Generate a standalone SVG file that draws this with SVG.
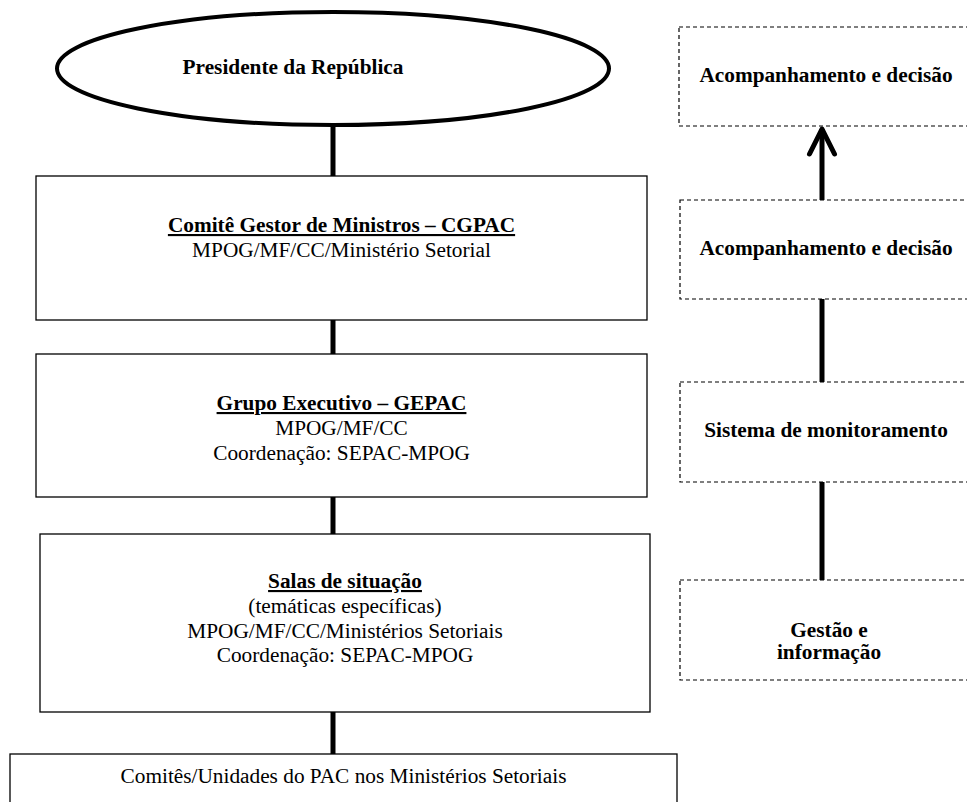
<svg xmlns="http://www.w3.org/2000/svg" width="967" height="802" viewBox="0 0 967 802">
<defs>
<style>
.box{fill:#fff;stroke:#000;stroke-width:1.3}
.dash{fill:#fff;stroke:#000;stroke-width:1.2;stroke-dasharray:4 3}
.t{font-family:"Liberation Serif","Times New Roman",serif;font-size:21.3px;fill:#000;text-anchor:middle}
.b{font-weight:bold}
.u{text-decoration:underline}
.conn{stroke:#000;stroke-width:5;fill:none}
</style>
<marker id="arrow" viewBox="-4 -18 34 36" refX="26" refY="0" markerWidth="34" markerHeight="36" markerUnits="userSpaceOnUse" orient="auto">
<path d="M1,-12.5 L26,0 L1,12.5" fill="none" stroke="#000" stroke-width="5" stroke-linecap="round" stroke-linejoin="round"/>
</marker>
</defs>
<rect width="967" height="802" fill="#fff"/>
<g id="connectors">
<line class="conn" x1="333" y1="125" x2="333" y2="176"/>
<line class="conn" x1="333" y1="320" x2="333" y2="354"/>
<line class="conn" x1="333" y1="497" x2="333" y2="534"/>
<line class="conn" x1="333" y1="712" x2="333" y2="754"/>
<line class="conn" x1="822" y1="200" x2="822" y2="129" marker-end="url(#arrow)"/>
<line class="conn" x1="822" y1="299" x2="822" y2="382"/>
<line class="conn" x1="822" y1="482" x2="822" y2="580"/>
</g>
<g id="presidente">
<ellipse cx="333" cy="68.5" rx="276" ry="56.5" fill="#fff" stroke="#000" stroke-width="4"/>
<text class="t b" x="293" y="74">Presidente da República</text>
</g>
<g id="cgpac">
<rect class="box" x="36" y="176" width="611" height="144"/>
<text class="t" x="341.5" y="232"><tspan class="b u">Comitê Gestor de Ministros – CGPAC</tspan></text>
<text class="t" x="341.5" y="257">MPOG/MF/CC/Ministério Setorial</text>
</g>
<g id="gepac">
<rect class="box" x="36" y="354" width="611" height="143"/>
<text class="t" x="341.5" y="410"><tspan class="b u">Grupo Executivo – GEPAC</tspan></text>
<text class="t" x="341.5" y="435">MPOG/MF/CC</text>
<text class="t" x="341.5" y="460">Coordenação: SEPAC-MPOG</text>
</g>
<g id="salas">
<rect class="box" x="40" y="534" width="610" height="178"/>
<text class="t" x="345" y="588"><tspan class="b u">Salas de situação</tspan></text>
<text class="t" x="345" y="613">(temáticas específicas)</text>
<text class="t" x="345" y="638">MPOG/MF/CC/Ministérios Setoriais</text>
<text class="t" x="345" y="662">Coordenação: SEPAC-MPOG</text>
</g>
<g id="comites">
<rect class="box" x="10" y="754" width="667" height="60"/>
<text class="t" x="343.5" y="783">Comitês/Unidades do PAC nos Ministérios Setoriais</text>
</g>
<g id="acomp1">
<rect class="dash" x="679" y="27" width="292" height="99"/>
<text class="t b" x="826" y="82">Acompanhamento e decisão</text>
</g>
<g id="acomp2">
<rect class="dash" x="680" y="200" width="291" height="99"/>
<text class="t b" x="826" y="255">Acompanhamento e decisão</text>
</g>
<g id="sistema">
<rect class="dash" x="680" y="382" width="291" height="100"/>
<text class="t b" x="826" y="437">Sistema de monitoramento</text>
</g>
<g id="gestao">
<rect class="dash" x="680" y="580" width="291" height="100"/>
<text class="t b" x="829" y="637">Gestão e</text>
<text class="t b" x="829" y="659">informação</text>
</g>
</svg>
